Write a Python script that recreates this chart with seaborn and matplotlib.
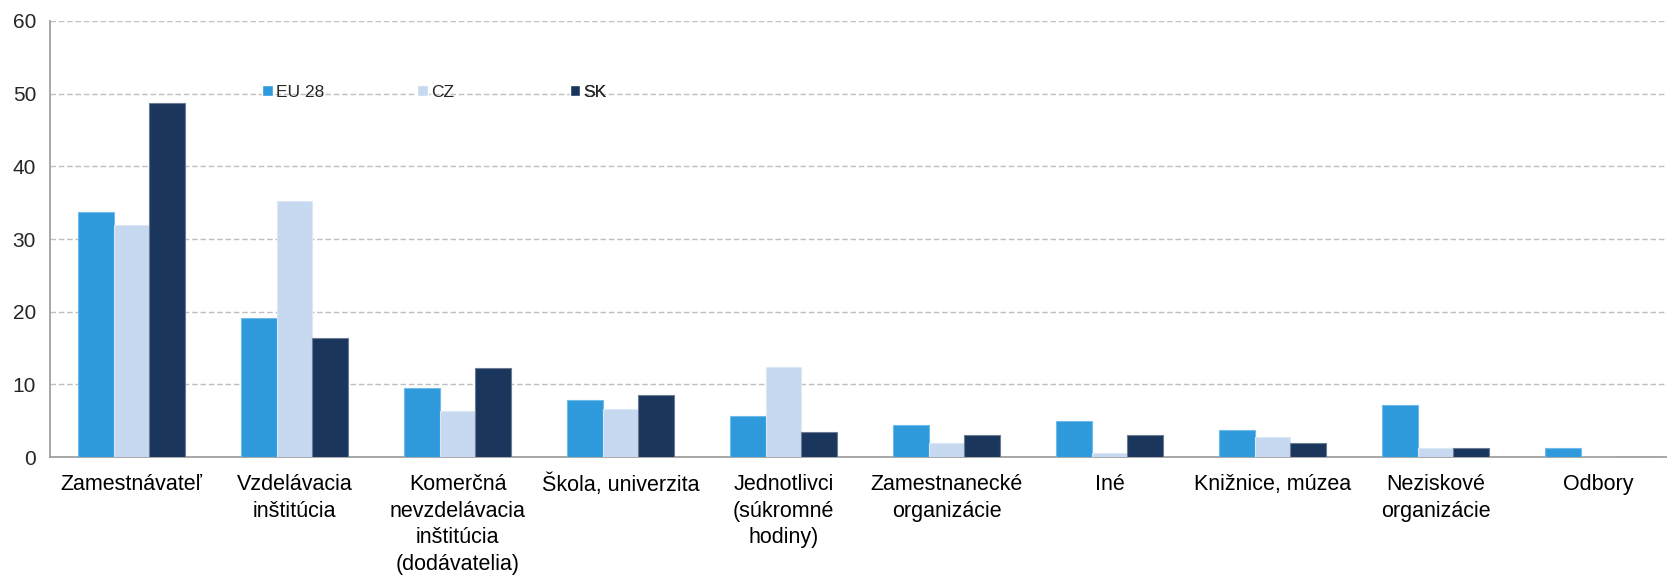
import matplotlib
matplotlib.use("Agg")
import matplotlib.pyplot as plt
import seaborn as sns
import pandas as pd
import numpy as np
from matplotlib.ticker import FixedLocator, MultipleLocator

categories = [
    "Zamestnávateľ",
    "Vzdelávacia\ninštitúcia",
    "Komerčná\nnevzdelávacia\ninštitúcia\n(dodávatelia)",
    "Škola, univerzita",
    "Jednotlivci\n(súkromné\nhodiny)",
    "Zamestnanecké\norganizácie",
    "Iné",
    "Knižnice, múzea",
    "Neziskové\norganizácie",
    "Odbory",
]
series_names = ["EU 28", "CZ", "SK"]
eu28 = [33.7, 19.2, 9.5, 7.8, 5.7, 4.4, 5.0, 3.7, 7.2, 1.2]
cz = [31.9, 35.3, 6.3, 6.6, 12.4, 1.9, 0.6, 2.8, 1.2, 0.0]
sk = [48.7, 16.4, 12.3, 8.5, 3.5, 3.1, 3.1, 2.0, 1.2, 0.0]
colors = ["#2E9ADC", "#C6D9F0", "#1A365D"]
edge_colors = ["#6FBCEB", "#DCE8F6", "#6B7C93"]

sns.set_style("white")
plt.rcParams["font.family"] = ["Liberation Sans Narrow", "Liberation Sans", "DejaVu Sans"]

df = pd.DataFrame({
    "category": categories * 3,
    "series": [s for s in series_names for _ in categories],
    "value": eu28 + cz + sk,
})

fig = plt.figure(figsize=(16.67, 5.75), dpi=100)
ax = fig.add_axes([0.030, 0.205, 0.970, 0.7585])

sns.barplot(data=df, x="category", y="value", hue="series", order=categories,
            hue_order=series_names, palette=colors, width=0.66, ax=ax,
            saturation=1, errorbar=None, zorder=3)

for cont, ec in zip(ax.containers, edge_colors):
    for bar in cont:
        bar.set_edgecolor(ec)
        bar.set_linewidth(0.8)

ax.set_ylim(0, 60)
ax.set_xlim(-0.5, 9.42)
ax.yaxis.set_major_locator(MultipleLocator(10))
ax.grid(axis="y", color="#BFBFBF", linestyle=(0, (4, 2)), linewidth=1.0, zorder=0)
ax.set_axisbelow(True)

for s in ["top", "right"]:
    ax.spines[s].set_visible(False)
for s in ["left", "bottom"]:
    ax.spines[s].set_color("#999999")
    ax.spines[s].set_linewidth(1.2)

ax.set_xlabel("")
ax.set_ylabel("")
ax.tick_params(axis="x", which="major", length=0, labelsize=15.5, pad=12, colors="black")
for lab in ax.get_xticklabels():
    lab.set_linespacing(1.36)
ax.xaxis.set_minor_locator(FixedLocator(np.arange(-0.5, 10, 1.0)))
ax.tick_params(axis="x", which="minor", length=7, color="#999999", width=1.2, direction="out")
ax.tick_params(axis="y", which="major", length=6, color="#999999", width=1.2, labelsize=15, pad=4)

handles, labels = ax.get_legend_handles_labels()
if ax.get_legend():
    ax.get_legend().remove()
legend_x = [0.1314, 0.2271, 0.3213]
for h, l, x in zip(handles, labels, legend_x):
    leg = ax.legend([h], [l], loc="upper left", bbox_to_anchor=(x, 0.853), frameon=False,
                    fontsize=12.5, handlelength=0.6, handleheight=0.6, handletextpad=0.2,
                    borderaxespad=0, borderpad=0)
    ax.add_artist(leg)

fig.savefig("out.png", dpi=100)
